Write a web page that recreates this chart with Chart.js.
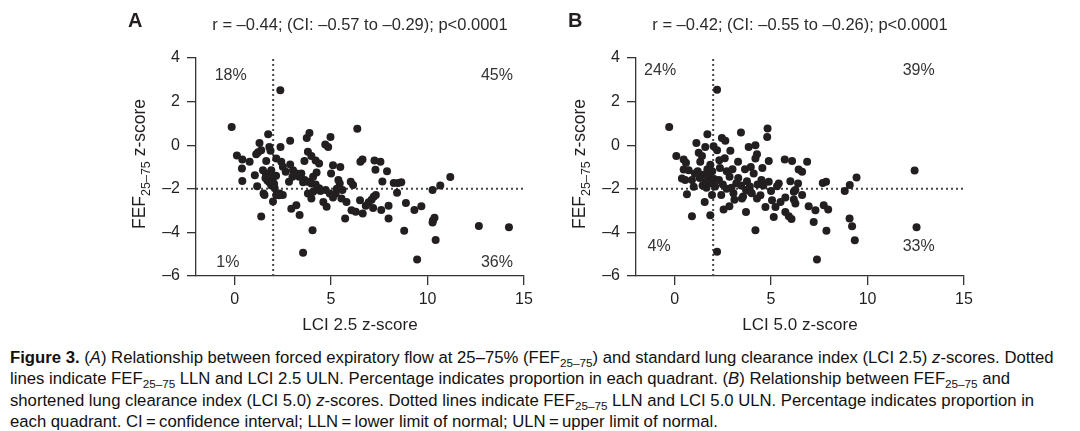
<!DOCTYPE html>
<html>
<head>
<meta charset="utf-8">
<script src="https://cdn.jsdelivr.net/npm/chart.js@4.4.1/dist/chart.umd.min.js"></script>
<style>
  body { margin: 0; background: #fff; width: 1080px; height: 431px; overflow: hidden; position: relative;
         font-family: "Liberation Sans", Arial, sans-serif; }
  .panel { position: absolute; top: 0; }
  #caption { position: absolute; left: 10px; top: 347px; font-size: 16.7px; line-height: 21.3px;
             color: #111; white-space: nowrap; }
  #caption sub { font-size: 0.7em; vertical-align: -0.3em; line-height: 0; }
</style>
</head>
<body>
<canvas id="chartA" class="panel" style="left:120px" width="420" height="340"></canvas>
<canvas id="chartB" class="panel" style="left:560px" width="420" height="340"></canvas>
<div id="caption">
<b>Figure 3.</b> (<i>A</i>) Relationship between forced expiratory flow at 25–75% (FEF<sub>25–75</sub>) and standard lung clearance index (LCI 2.5) <i>z</i>-scores. Dotted<br>
lines indicate FEF<sub>25–75</sub> LLN and LCI 2.5 ULN. Percentage indicates proportion in each quadrant. (<i>B</i>) Relationship between FEF<sub>25–75</sub> and<br>
shortened lung clearance index (LCI 5.0) <i>z</i>-scores. Dotted lines indicate FEF<sub>25–75</sub> LLN and LCI 5.0 ULN. Percentage indicates proportion in<br>
each quadrant. CI&#8201;=&#8201;confidence interval; LLN&#8201;=&#8201;lower limit of normal; ULN&#8201;=&#8201;upper limit of normal.
</div>
<script>
const xTicks = [0, 5, 10, 15];
const yTicks = [-6, -4, -2, 0, 2, 4];
const llnFEF = -2;
const ulnLCI = 2;

// panel A: LCI 2.5 z-score vs FEF25-75 z-score
const lci25 = [
  -0.15, 2.37, 1.74, 3.88, 4.97, 6.36, 2.88, 3.74, 1.29, 2.38, 1.8, 1.86, 4.7, 4.85, 0.12, 0.4, 0.78, 0.38, 0.4, 1.12, 1.22, 1.38, 1.64, 1.05, 1.17, 1.5, 1.38, 1.9, 1.47,
  1.62, 1.75, 1.86, 1.98, 1.8, 2.15, 1.7, 1.95, 2.05, 1.6, 1.9,
  2.08, 2.16, 1.99, 2.34, 2.5, 2.16, 2.42, 2.5, 2.65, 2.88, 3.03, 3.2, 3.46, 2.82, 2.94, 3.2, 3.37, 3.55, 4.04, 3.62,
  3.8, 3.98, 4.2, 4.38, 3.63, 3.8, 3.98, 3.8, 4.07, 3.98, 4.07, 4.38, 4.6, 4.77, 4.72, 4.93, 5.1, 5.0, 5.24, 5.38,
  5.45, 5.48, 5.59, 5.54, 5.8, 5.73, 6.02, 6.14, 6.06, 6.28, 6.52, 6.63, 6.5, 6.64, 6.8, 6.95, 7.1, 7.21, 7.32, 7.25,
  7.56, 7.3, 7.18, 7.6, 7.66, 7.9, 7.98, 7.98, 8.25, 8.42, 8.48, 8.64, 8.88, 8.79, 9.32, 9.68, 9.46, 10.26, 10.66, 11.18,
  10.28, 10.36, 10.26, 10.42, 12.66, 14.22,
  3.35, 3.55, 4.2, 4.45, 5.3, 5.1, 1.55, 2.3, 3.0, 4.25
];
const fefA = [
  0.84, 2.52, 0.5, 0.56, 0.38, 0.76, 0.2, 0.33, 0.1, -0.08, -0.08, -0.26, 0.03, -0.08, -0.47, -0.66, -0.76, -1.07, -1.64, -0.42, -0.32, -0.23, -0.72, -1.38, -1.88, -2.21, -3.27, -1.15, -1.15,
  -1.3, -1.45, -1.52, -1.65, -1.7, -1.4, -1.62, -1.4, -1.78, -1.5, -1.85,
  -1.98, -2.29, -2.58, -2.21, -2.29, -0.61, -0.76, -0.99, -1.22, -0.88, -1.15, -1.3, -1.3, -1.68, -2.92, -2.75, -3.2, -4.93, -3.9, -0.72,
  -0.3, -0.5, -0.7, -0.84, -1.6, -1.68, -1.76, -2.21, -2.14, -2.44, -1.45, -1.98, -2.6, -2.82, -2.06, -2.21, -0.92, -1.3, -2.21, -1.6,
  -1.76, -1.0, -2.06, -2.44, -2.6, -3.36, -1.68, -1.83, -2.98, -3.05, -0.76, -0.66, -2.52, -3.13, -2.78, -2.62, -2.5, -2.37, -2.29, -0.7,
  -0.76, -1.13, -2.88, -2.97, -1.66, -1.2, -2.78, -3.36, -1.73, -2.18, -1.73, -1.7, -2.65, -3.93, -2.97, -2.8, -5.24, -2.06, -1.85, -1.46,
  -3.45, -3.33, -3.55, -4.35, -3.71, -3.76,
  -1.45, -1.7, -1.8, -2.1, -2.0, -2.4, -2.29, -2.3, -1.45, -1.25
];

// panel B: LCI 5.0 z-score vs FEF25-75 z-score
const lci50 = [
  -0.28, 2.2, 1.7, 3.44, 4.82, 4.8, 2.45, 2.63, 1.13, 1.59, 2.02, 2.2, 2.89, 3.84, 4.19, 4.27, 4.19, 4.88, 4.55, 3.29,
  2.32, 1.25, 1.42, 1.33, 0.09, 0.47, 0.59, 0.47, 0.73, 0.38, 0.55, 0.9, 0.99, 0.64, 0.9, 1.85, 1.56, 1.94,
  1.85, 1.7, 1.95, 1.5, 1.75, 2.05, 1.3, 1.6, 1.9, 1.45, 2.1, 1.2, 1.65, 1.05,
  2.3, 2.5, 2.7, 2.85, 2.7, 3.0, 3.3, 3.45, 3.05, 3.1, 3.55, 3.7, 3.75, 3.65, 3.95, 4.1, 4.3, 4.0, 4.5, 2.42,
  2.54, 2.84, 3.7, 4.19, 2.2, 3.49, 3.93, 4.27, 4.71, 5.14,
  5.71, 6.09, 6.87, 6.43, 6.61, 4.88, 5.4, 5.31, 6.0, 6.4, 7.68, 7.85, 9.08, 8.82, 9.43, 12.44, 12.54, 7.38, 9.34, 9.2,
  9.07, 7.87, 7.21, 7.3, 7.73, 7.96, 6.95, 5.05, 5.49, 5.74, 6.18, 6.61, 5.23, 5.74, 5.92, 6.06, 6.26, 6.18, 6.26,
  3.2, 2.95, 3.9, 4.45, 4.6, 5.0, 2.35, 2.6
];
const fefB = [
  0.84, 2.54, 0.5, 0.58, 0.77, 0.38, 0.33, 0.2, 0.1, -0.08, -0.05, -0.23, -0.26, -0.08, 0, -0.41, -0.61, -0.72, -1.05, -0.76,
  -0.69, -0.35, -0.5, -0.76, -0.49, -0.66, -0.81, -1.12, -1.15, -1.53, -1.6, -1.6, -1.91, -2.25, -3.26, -3.21, -2.6, -2.29,
  -0.9, -1.1, -1.2, -1.35, -1.45, -1.55, -1.5, -1.7, -1.75, -1.85, -1.9, -1.2, -1.95, -1.3,
  -1.6, -1.8, -2.0, -1.45, -1.2, -1.1, -1.5, -1.85, -2.2, -2.5, -2.35, -2.05, -1.65, -1.1, -1.0, -1.3, -1.8, -2.2, -1.6, -2.29,
  -2.95, -2.8, -3.06, -3.9, -4.89, -2.45, -2.14, -2.45, -2.83, -3.29,
  -0.66, -0.72, -0.76, -1.12, -1.22, -1.68, -1.76, -1.88, -1.65, -1.76, -1.73, -1.68, -1.83, -2.1, -1.48, -1.16, -3.76, -5.24, -4.36, -3.72,
  -3.36, -3.93, -3.52, -2.98, -2.75, -2.95, -2.8, -2.52, -2.6, -2.4, -2.49, -2.29, -2.83, -3.06, -3.26, -3.38, -2.67, -2.14, -2.06,
  -1.75, -1.95, -1.9, -2.3, -1.85, -2.1, -1.05, -0.6
];

const quadA = ['18%', '45%', '1%', '36%'];
const quadB = ['24%', '39%', '4%', '33%'];
const statA = 'r = –0.44; (CI: –0.57 to –0.29); p<0.0001';
const statB = 'r = –0.42; (CI: –0.55 to –0.26); p<0.0001';

const FONT = '"Liberation Sans", Arial, sans-serif';
const INK = '#231f20';
const dash = s => String(s).replace('-', '–');

// panel letter, stats line, quadrant percentages and the FEF axis title with its subscript
const decor = {
  id: 'decor',
  afterDraw(chart, args, o) {
    const { ctx, scales: { x, y } } = chart;
    ctx.save();
    ctx.fillStyle = INK;
    ctx.textBaseline = 'middle';
    ctx.textAlign = 'left';
    ctx.font = 'bold 20px ' + FONT;
    ctx.fillText(o.letter, 8, 21);
    ctx.textAlign = 'center';
    ctx.font = '16.5px ' + FONT;
    ctx.fillStyle = '#2a2a2a';
    ctx.fillText(o.stat, (x.left + x.right) / 2, 25);
    ctx.font = '16px ' + FONT;
    ctx.fillStyle = '#333';
    o.quads.forEach((t, i) => {
      const p = o.quadPos[i];
      ctx.fillText(t, x.getPixelForValue(p[0]), y.getPixelForValue(p[1]));
    });
    // rotated y title
    ctx.translate(19, 164);
    ctx.rotate(-Math.PI / 2);
    ctx.textAlign = 'left';
    ctx.textBaseline = 'alphabetic';
    ctx.fillStyle = INK;
    ctx.font = '17.5px ' + FONT;
    const w1 = ctx.measureText('FEF').width;
    const w3 = ctx.measureText(' z-score').width;
    ctx.font = '12.5px ' + FONT;
    const w2 = ctx.measureText('25–75').width;
    let s = -(w1 + w2 + w3) / 2;
    ctx.font = '17.5px ' + FONT;
    ctx.fillText('FEF', s, 6);
    ctx.font = '12.5px ' + FONT;
    ctx.fillText('25–75', s + w1, 11);
    ctx.font = '17.5px ' + FONT;
    ctx.fillText(' z-score', s + w1 + w2, 6);
    ctx.restore();
  }
};

function makeChart(id, xs, ys, xTitle, letter, stat, quads, quadPos) {
  const pts = xs.map((v, i) => ({ x: v, y: ys[i] }));
  return new Chart(document.getElementById(id), {
    type: 'scatter',
    data: {
      datasets: [
        {
          data: pts, order: 1,
          pointRadius: 4, pointBackgroundColor: INK, pointBorderWidth: 0, pointHoverRadius: 4
        },
        {
          type: 'line', order: 2,
          data: [{ x: ulnLCI, y: -6 }, { x: ulnLCI, y: 4 }],
          borderColor: '#444', borderWidth: 2, borderDash: [2, 3], pointRadius: 0
        },
        {
          type: 'line', order: 2,
          data: [{ x: -2, y: llnFEF }, { x: 15, y: llnFEF }],
          borderColor: '#444', borderWidth: 2, borderDash: [2, 3], pointRadius: 0
        }
      ]
    },
    options: {
      responsive: false,
      animation: false,
      events: [],
      layout: { padding: { left: 0, top: 58, right: 16, bottom: 0 } },
      plugins: {
        legend: { display: false },
        tooltip: { enabled: false },
        decor: { letter, stat, quads, quadPos }
      },
      scales: {
        x: {
          type: 'linear', min: -2, max: 15,
          afterBuildTicks: s => { s.ticks = xTicks.map(v => ({ value: v })); },
          afterFit: s => { s.height = 64; },
          grid: { drawOnChartArea: false, tickLength: 9, color: '#333', lineWidth: 1.3 },
          border: { color: '#333', width: 1.3 },
          ticks: { padding: 5, color: INK, font: { family: FONT, size: 16 } },
          title: { display: true, text: xTitle, color: INK, font: { family: FONT, size: 17 }, padding: { top: 0, bottom: 4 } }
        },
        y: {
          type: 'linear', min: -6, max: 4,
          afterBuildTicks: s => { s.ticks = yTicks.map(v => ({ value: v })); },
          afterFit: s => { s.width = 76; },
          grid: { drawOnChartArea: false, tickLength: 9, color: '#333', lineWidth: 1.3 },
          border: { color: '#333', width: 1.3 },
          ticks: { padding: 7, color: INK, font: { family: FONT, size: 16 }, callback: v => dash(v) }
        }
      }
    },
    plugins: [decor]
  });
}

makeChart('chartA', lci25, fefA, 'LCI 2.5 z-score', 'A', statA, quadA,
  [[-0.2, 3.2], [13.6, 3.2], [-0.35, -5.4], [13.6, -5.4]]);
makeChart('chartB', lci50, fefB, 'LCI 5.0 z-score', 'B', statB, quadB,
  [[-0.75, 3.4], [12.65, 3.4], [-0.8, -4.65], [12.65, -4.65]]);
</script>
</body>
</html>
